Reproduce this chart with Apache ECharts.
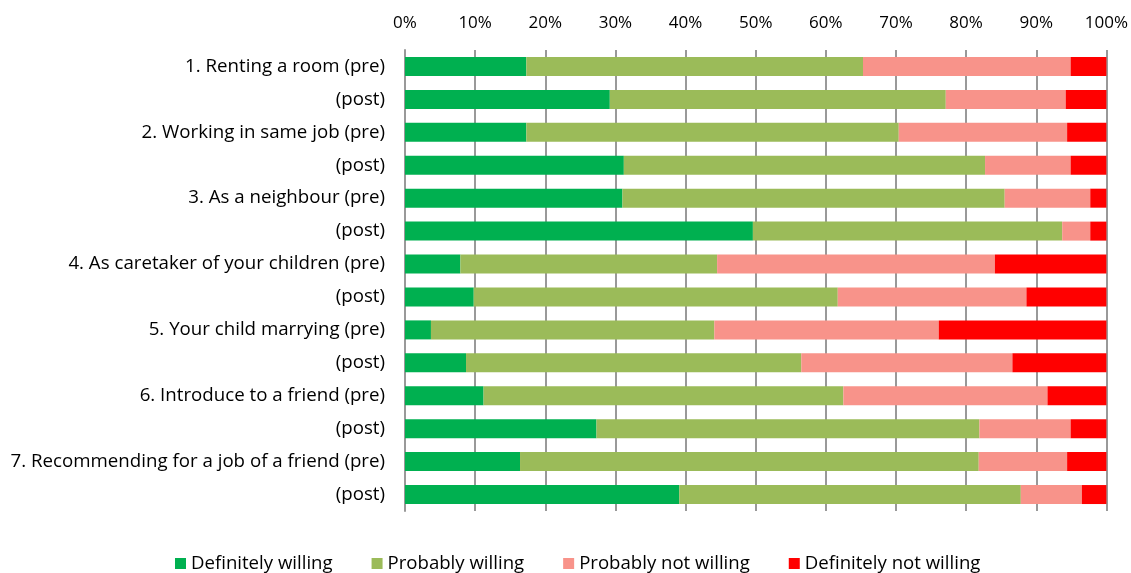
<!DOCTYPE html>
<html>
<head>
<meta charset="utf-8">
<script src="https://cdn.jsdelivr.net/npm/echarts@6/dist/echarts.min.js"></script>
<style>
  html, body { margin: 0; padding: 0; background: #fff; }
  #main { width: 1131px; height: 573px; }
</style>
</head>
<body>
<div id="main"></div>
<script>
const categories = [
  '1. Renting a room (pre)', '(post)',
  '2. Working in same job (pre)', '(post)',
  '3. As a neighbour (pre)', '(post)',
  '4. As caretaker of your children (pre)', '(post)',
  '5. Your child marrying (pre)', '(post)',
  '6. Introduce to a friend (pre)', '(post)',
  '7. Recommending for a job of a friend (pre)', '(post)'
]

// percentages
const definitelyWilling = [17.3, 29.2, 17.3, 31.2, 31.0, 49.6, 7.9, 9.8, 3.7, 8.7, 11.2, 27.3, 16.4, 39.1]
const probablyWilling = [48.0, 47.9, 53.1, 51.5, 54.5, 44.1, 36.6, 51.9, 40.4, 47.8, 51.3, 54.6, 65.4, 48.7]
const probablyNot = [29.6, 17.1, 24.0, 12.2, 12.2, 4.0, 39.6, 26.9, 32.0, 30.1, 29.1, 13.0, 12.6, 8.7]
const definitelyNot = [5.1, 5.8, 5.6, 5.1, 2.3, 2.3, 15.9, 11.4, 23.9, 13.4, 8.4, 5.1, 5.6, 3.5]

const seriesNames = ['Definitely willing', 'Probably willing', 'Probably not willing', 'Definitely not willing']
const colors = ['#00b050', '#9bbb59', '#f8938a', '#ff0000']

const font = 'Open Sans'

const chart = echarts.init(document.getElementById('main'))

const makeSeries = (name, data, color) => ({
  name: name,
  type: 'bar',
  stack: 'total',
  barWidth: 19,
  data: data,
  itemStyle: {color: color},
  emphasis: {disabled: true}
})

chart.setOption({
  animation: false,
  textStyle: {fontFamily: font},
  grid: {left: 405, right: 24, top: 50, bottom: 62},
  legend: {
    top: 549,
    left: 170,
    itemWidth: 11,
    itemHeight: 11,
    itemGap: 39,
    icon: 'rect',
    textStyle: {fontSize: 18.6, color: '#000', fontFamily: font},
    data: seriesNames
  },
  xAxis: {
    type: 'value',
    position: 'top',
    min: 0,
    max: 100,
    interval: 10,
    axisLine: {show: false},
    axisTick: {show: false},
    axisLabel: {
      formatter: '{value}%',
      fontSize: 17,
      color: '#000',
      margin: 18
    },
    splitLine: {lineStyle: {color: '#999', width: 2}}
  },
  yAxis: {
    type: 'category',
    inverse: true,
    data: categories,
    axisLine: {lineStyle: {color: '#999', width: 2}},
    axisTick: {show: false},
    axisLabel: {fontSize: 18.7, color: '#000', margin: 20}
  },
  series: [
    makeSeries(seriesNames[0], definitelyWilling, colors[0]),
    makeSeries(seriesNames[1], probablyWilling, colors[1]),
    makeSeries(seriesNames[2], probablyNot, colors[2]),
    makeSeries(seriesNames[3], definitelyNot, colors[3])
  ]
})
</script>
</body>
</html>
